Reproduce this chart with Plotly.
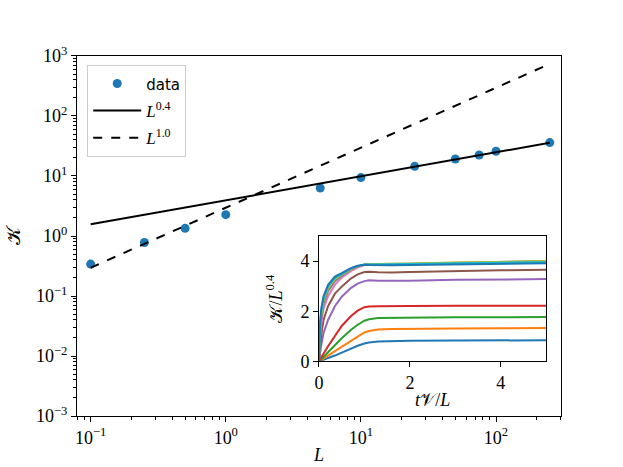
import plotly.graph_objects as go

# main panel: K versus L
L_vals = [0.1, 0.25, 0.5, 1, 5, 10, 25, 50, 75, 100, 250]
K_vals = [0.34, 0.78, 1.34, 2.27, 6.3, 9.4, 14.5, 19.2, 22.4, 25.8, 36.0]

# power-law guide lines (end points)
L_fit = [0.1, 250]
K_fit_04 = [1.57, 35.8]
K_fit_10 = [0.296, 740]

# inset: K/L^0.4 versus tV/L, one curve per L
t_scaled = [0, 0.02, 0.05, 0.1, 0.2, 0.35, 0.5, 0.7, 0.85, 1.0, 1.1, 1.3, 1.6, 2.0, 3.0, 4.0, 5.0]
inset_curves = [
    [0, 0.01, 0.03, 0.06, 0.13, 0.23, 0.35, 0.50, 0.62, 0.71, 0.75, 0.79, 0.81, 0.82, 0.83, 0.84, 0.84],
    [0, 0.02, 0.05, 0.11, 0.23, 0.41, 0.58, 0.82, 1.00, 1.15, 1.21, 1.27, 1.29, 1.30, 1.31, 1.32, 1.33],
    [0, 0.03, 0.08, 0.17, 0.36, 0.65, 0.92, 1.25, 1.46, 1.62, 1.68, 1.73, 1.74, 1.75, 1.76, 1.76, 1.77],
    [0, 0.05, 0.14, 0.30, 0.60, 1.02, 1.41, 1.80, 2.02, 2.16, 2.19, 2.20, 2.21, 2.21, 2.22, 2.22, 2.22],
    [0, 0.30, 0.65, 1.12, 1.65, 2.20, 2.58, 2.92, 3.10, 3.20, 3.23, 3.22, 3.21, 3.22, 3.25, 3.27, 3.28],
    [0, 0.55, 1.05, 1.65, 2.20, 2.70, 2.98, 3.30, 3.47, 3.56, 3.57, 3.55, 3.54, 3.56, 3.60, 3.63, 3.65],
    [0, 0.90, 1.50, 2.10, 2.60, 3.05, 3.34, 3.60, 3.74, 3.84, 3.86, 3.86, 3.86, 3.87, 3.90, 3.93, 3.95],
    [0, 1.05, 1.70, 2.30, 2.80, 3.20, 3.42, 3.66, 3.78, 3.86, 3.88, 3.88, 3.88, 3.89, 3.93, 3.97, 4.00],
    [0, 1.20, 1.85, 2.42, 2.92, 3.28, 3.46, 3.68, 3.79, 3.86, 3.87, 3.87, 3.88, 3.90, 3.94, 3.98, 4.00],
    [0, 1.30, 1.95, 2.50, 2.98, 3.33, 3.48, 3.70, 3.80, 3.86, 3.86, 3.86, 3.87, 3.88, 3.91, 3.94, 3.96],
    [0, 1.45, 2.10, 2.60, 3.05, 3.38, 3.52, 3.72, 3.81, 3.85, 3.84, 3.83, 3.83, 3.84, 3.87, 3.89, 3.91],
]
tab10 = ["#1f77b4", "#ff7f0e", "#2ca02c", "#d62728", "#9467bd",
         "#8c564b", "#e377c2", "#7f7f7f", "#bcbd22", "#17becf"]

x_major = [0.1, 1, 10, 100]
x_major_txt = ["10<sup>−1</sup>", "10<sup>0</sup>", "10<sup>1</sup>", "10<sup>2</sup>"]
y_major = [1e-3, 1e-2, 1e-1, 1, 10, 100, 1000]
y_major_txt = ["10<sup>−3</sup>", "10<sup>−2</sup>", "10<sup>−1</sup>", "10<sup>0</sup>",
               "10<sup>1</sup>", "10<sup>2</sup>", "10<sup>3</sup>"]

def minor_log(lo, hi):
    out = []
    for e in range(lo, hi):
        for m in range(2, 10):
            out.append(m * 10.0 ** e)
    return out

SERIF = "Liberation Serif, Times New Roman, serif"

fig = go.Figure()
fig.add_trace(go.Scatter(x=L_vals, y=K_vals, mode="markers", legendgroup="a",
                         marker=dict(color="#1f77b4", size=9),
                         name="<span style='font-family:DejaVu Sans;font-size:15px'>data</span>"))
fig.add_trace(go.Scatter(x=L_fit, y=K_fit_04, mode="lines", legendgroup="b",
                         line=dict(color="black", width=2), name="<i>L</i><sup>0.4</sup>"))
fig.add_trace(go.Scatter(x=L_fit, y=K_fit_10, mode="lines", legendgroup="c",
                         line=dict(color="black", width=2, dash="dash"), name="<i>L</i><sup>1.0</sup>"))

for i, curve in enumerate(inset_curves):
    fig.add_trace(go.Scatter(x=t_scaled, y=curve, mode="lines", xaxis="x2", yaxis="y2",
                             line=dict(color=tab10[i % 10], width=2), showlegend=False))

axis_common = dict(showline=True, mirror=True, linecolor="black", linewidth=1,
                   ticks="outside", tickcolor="black", showgrid=False, zeroline=False,
                   automargin=False)

fig.update_layout(
    width=623, height=467,
    margin=dict(l=0, r=0, t=0, b=0),
    font=dict(family=SERIF, color="black"),
    paper_bgcolor="white", plot_bgcolor="white",
    xaxis=dict(type="log", domain=[0.1236, 0.9005], range=[-1.101, 2.481],
               tickmode="array", tickvals=x_major, ticktext=x_major_txt, ticklen=5,
               minor=dict(tickvals=minor_log(-2, 3), ticks="outside", ticklen=3, tickcolor="black"),
               title=dict(text="<i>L</i>", font=dict(family=SERIF, size=18), standoff=1),
               **axis_common),
    yaxis=dict(type="log", domain=[0.1092, 0.8801], range=[-3, 3],
               tickmode="array", tickvals=y_major, ticktext=y_major_txt, ticklen=5,
               minor=dict(tickvals=minor_log(-3, 3), ticks="outside", ticklen=3, tickcolor="black"),
               title=dict(text="𝒦", font=dict(family=SERIF, size=19), standoff=10),
               **axis_common),
    xaxis2=dict(anchor="y2", domain=[0.5120, 0.8769], range=[0, 5],
                tickmode="array", tickvals=[0, 2, 4], ticklen=5,
                title=dict(text="<i>t</i>𝒱/<i>L</i>", font=dict(family=SERIF, size=18), standoff=1),
                **axis_common),
    yaxis2=dict(anchor="x2", domain=[0.2263, 0.4946], range=[0, 5],
                tickmode="array", tickvals=[0, 2, 4], ticklen=5,
                title=dict(text="𝒦/<i>L</i><sup>0.4</sup>", font=dict(family=SERIF, size=18), standoff=13),
                **axis_common),
    legend=dict(x=0.140, y=0.861, xanchor="left", yanchor="top",
                bgcolor="rgba(255,255,255,0.8)", bordercolor="#cccccc", borderwidth=1,
                itemwidth=48, tracegroupgap=2,
                font=dict(family=SERIF, size=17, color="black")),
    showlegend=True,
)
fig.update_xaxes(tickfont=dict(family=SERIF, size=18, color="black"))
fig.update_yaxes(tickfont=dict(family=SERIF, size=18, color="black"))

fig.write_html("out.html", config={"displayModeBar": False},
               post_script="document.body.style.margin='0';")
